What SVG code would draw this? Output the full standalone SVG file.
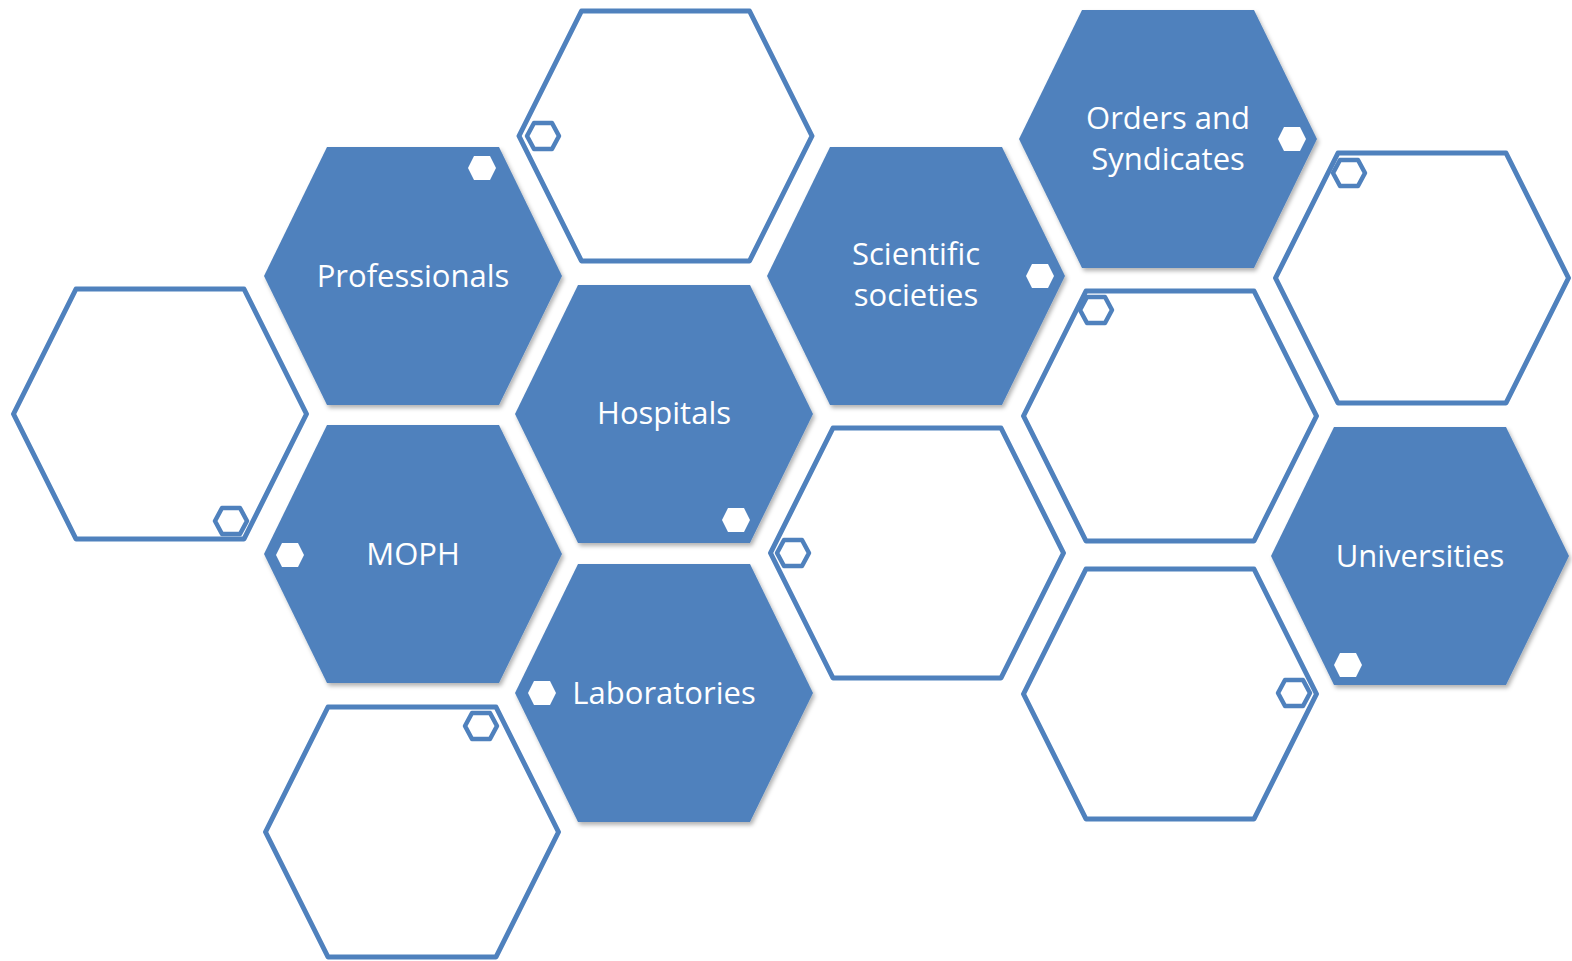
<svg xmlns="http://www.w3.org/2000/svg" xmlns:xlink="http://www.w3.org/1999/xlink" width="1572" height="961" viewBox="0 0 1572 961">
  <defs>
    <path id="hex" d="M-84,-125 L84,-125 L146.5,0 L84,125 L-84,125 L-146.5,0 Z"/>
    <path id="fhex" d="M-86,-129 L86,-129 L149,0 L86,129 L-86,129 L-149,0 Z"/>
    <path id="shex" d="M-8,-12 L8,-12 L14,0 L8,12 L-8,12 L-14,0 Z"/>
    <path id="ohex" d="M-9,-13 L9,-13 L16,0 L9,13 L-9,13 L-16,0 Z"/>
    <filter id="shadow" x="-10%" y="-10%" width="125%" height="125%">
      <feDropShadow dx="2" dy="3" stdDeviation="2" flood-color="#000" flood-opacity="0.3"/>
    </filter>
  </defs>
  <style>
    .fill { fill: #4F81BD; filter: url(#shadow); }
    .outline { fill: #FFFFFF; stroke: #4F81BD; stroke-width: 5; stroke-linejoin: round; }
    .sfill { fill: #FFFFFF; }
    .sout { fill: #FFFFFF; stroke: #4F81BD; stroke-width: 4.5; stroke-linejoin: round; }
    .label { fill: #FFFFFF; font-family: "Open Sans", "Noto Sans", "Liberation Sans", sans-serif; font-size: 31px; text-anchor: middle; }
  </style>
  <rect width="1572" height="961" fill="#FFFFFF"/>

  <g id="outline-c1r2" transform="translate(160,414)">
    <use xlink:href="#hex" class="outline"/>
    <use xlink:href="#ohex" class="sout" transform="translate(71,107)"/>
  </g>
  <g id="outline-c3r1" transform="translate(665.5,136)">
    <use xlink:href="#hex" class="outline"/>
    <use xlink:href="#ohex" class="sout" transform="translate(-122.5,0)"/>
  </g>
  <g id="outline-c2r3" transform="translate(412,832)">
    <use xlink:href="#hex" class="outline"/>
    <use xlink:href="#ohex" class="sout" transform="translate(69,-106)"/>
  </g>
  <g id="outline-c4r2" transform="translate(917,553)">
    <use xlink:href="#hex" class="outline"/>
    <use xlink:href="#ohex" class="sout" transform="translate(-124,0)"/>
  </g>
  <g id="outline-c5r2" transform="translate(1170,416)">
    <use xlink:href="#hex" class="outline"/>
    <use xlink:href="#ohex" class="sout" transform="translate(-74,-106)"/>
  </g>
  <g id="outline-c5r3" transform="translate(1170,694)">
    <use xlink:href="#hex" class="outline"/>
    <use xlink:href="#ohex" class="sout" transform="translate(124,-1)"/>
  </g>
  <g id="outline-c6r1" transform="translate(1422,278)">
    <use xlink:href="#hex" class="outline"/>
    <use xlink:href="#ohex" class="sout" transform="translate(-73,-105)"/>
  </g>

  <g id="professionals" transform="translate(413,276)">
    <use xlink:href="#fhex" class="fill"/>
    <use xlink:href="#shex" class="sfill" transform="translate(69,-108)"/>
    <text class="label" x="0" y="11">Professionals</text>
  </g>
  <g id="moph" transform="translate(413,554)">
    <use xlink:href="#fhex" class="fill"/>
    <use xlink:href="#shex" class="sfill" transform="translate(-123,1)"/>
    <text class="label" x="0" y="11">MOPH</text>
  </g>
  <g id="hospitals" transform="translate(664,414)">
    <use xlink:href="#fhex" class="fill"/>
    <use xlink:href="#shex" class="sfill" transform="translate(72,106)"/>
    <text class="label" x="0" y="10">Hospitals</text>
  </g>
  <g id="laboratories" transform="translate(664,693)">
    <use xlink:href="#fhex" class="fill"/>
    <use xlink:href="#shex" class="sfill" transform="translate(-122,0)"/>
    <text class="label" x="0" y="11">Laboratories</text>
  </g>
  <g id="scientific-societies" transform="translate(916,276)">
    <use xlink:href="#fhex" class="fill"/>
    <use xlink:href="#shex" class="sfill" transform="translate(124,0)"/>
    <text class="label" x="0" y="-11">Scientific</text>
    <text class="label" x="0" y="30">societies</text>
  </g>
  <g id="orders-syndicates" transform="translate(1168,139)">
    <use xlink:href="#fhex" class="fill"/>
    <use xlink:href="#shex" class="sfill" transform="translate(124,0)"/>
    <text class="label" x="0" y="-10">Orders and</text>
    <text class="label" x="0" y="31">Syndicates</text>
  </g>
  <g id="universities" transform="translate(1420,556)">
    <use xlink:href="#fhex" class="fill"/>
    <use xlink:href="#shex" class="sfill" transform="translate(-72,109)"/>
    <text class="label" x="0" y="11">Universities</text>
  </g>
</svg>
